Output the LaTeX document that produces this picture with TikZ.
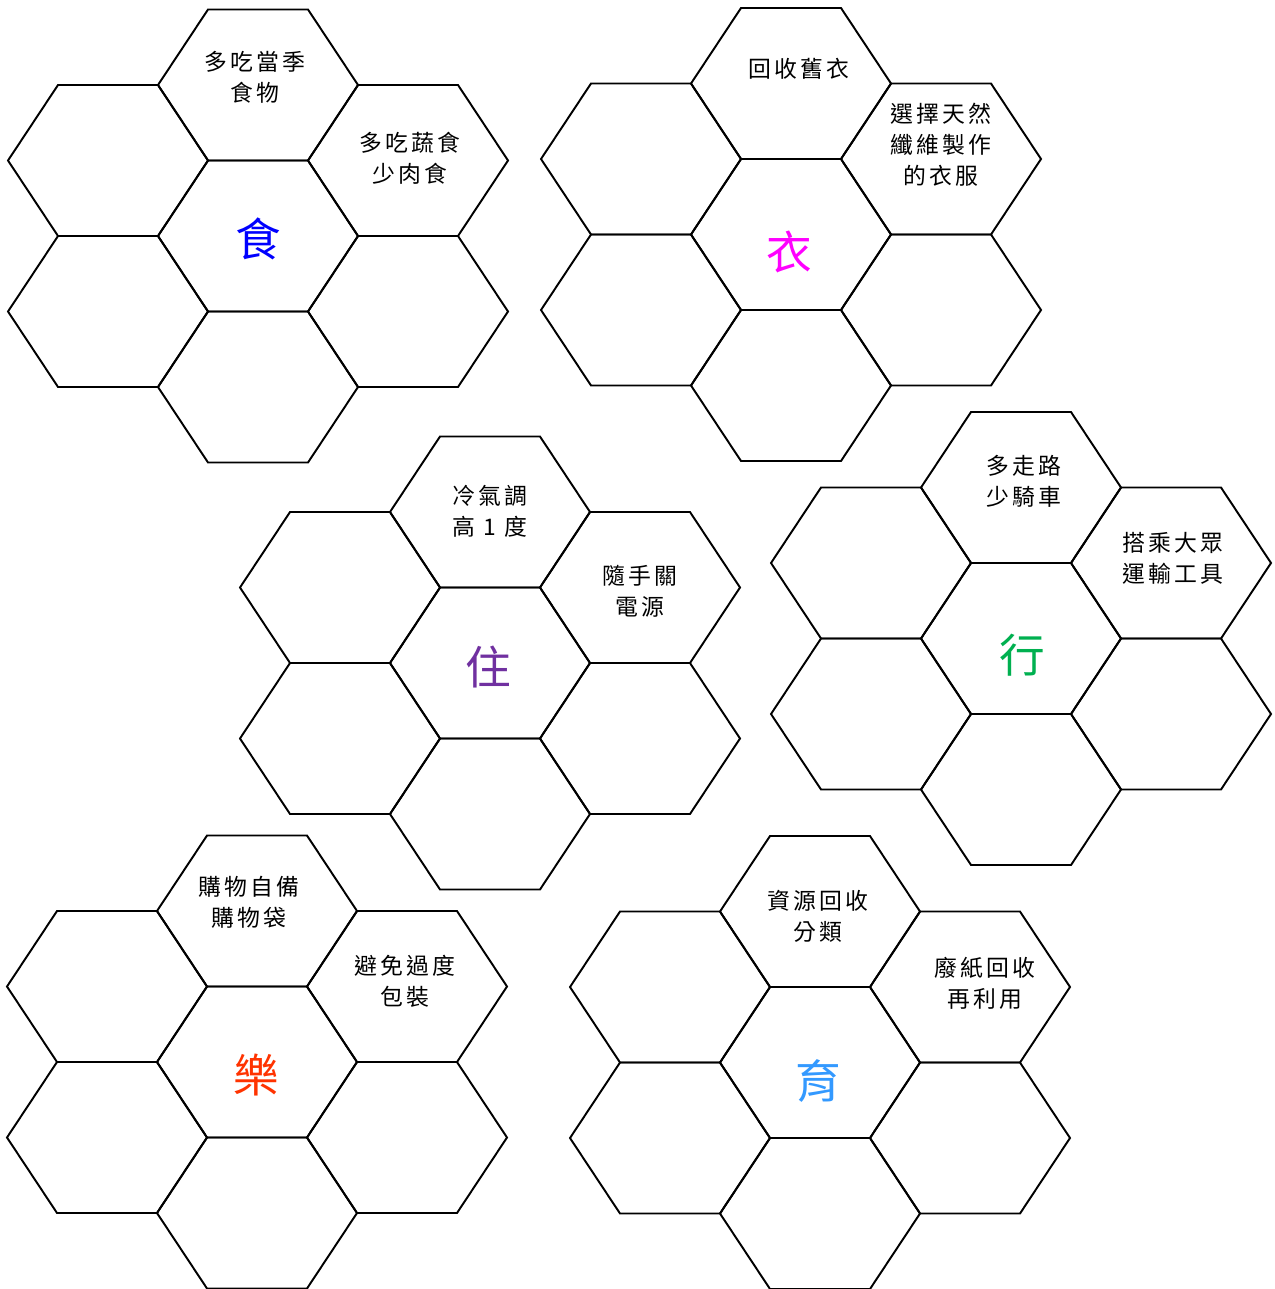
\documentclass[tikz,border=0pt]{standalone}
\usepackage{fontspec}
\newfontfamily\cjk[LetterSpace=15]{Noto Sans CJK TC}
\newfontfamily\cjkhub{Noto Sans CJK TC}
\definecolor{shiblue}{HTML}{0000FF}
\definecolor{yimagenta}{HTML}{FF00FF}
\definecolor{zhupurple}{HTML}{7030A0}
\definecolor{xinggreen}{HTML}{00B050}
\definecolor{leorange}{HTML}{FF3300}
\definecolor{yuskyblue}{HTML}{3399FF}
\tikzset{
  hexline/.style={draw, line width=1.1pt, line join=miter},
  pics/hexcell/.style={code={\draw[hexline] (-100,0) -- (-50,-75.5) -- (50,-75.5) -- (100,0) -- (50,75.5) -- (-50,75.5) -- cycle;}},
  tip/.style={align=center, font=\cjk\fontsize{13}{17.6}\selectfont, inner sep=0pt},
  hub/.style={font=\cjkhub\fontsize{26}{30}\selectfont, inner sep=0pt},
}
\begin{document}
\begin{tikzpicture}[x=0.2mm, y=-0.2mm]
  \useasboundingbox (0,0) rectangle (1274,1289);
  \foreach \cx/\cy in {258/236, 791/234.5, 490/663, 1021/638.5, 257/1062, 820/1062.5}
    \foreach \dx/\dy in {0/0, 0/-151, 0/151, -150/-75.5, 150/-75.5, -150/75.5, 150/75.5}
      \pic at ({\cx+\dx},{\cy+\dy}) {hexcell};

  \node[hub, text=shiblue] (shi) at (258,239) {食};
  \node[tip] (shi-top) at (255,77) {多吃當季\\食物};
  \node[tip] (shi-ur) at (410,158) {多吃蔬食\\少肉食};

  \node[hub, text=yimagenta] (yi) at (789,252) {衣};
  \node[tip] (yi-top) at (799,69) {回收舊衣};
  \node[tip] (yi-ur) at (941,145) {選擇天然\\纖維製作\\的衣服};

  \node[hub, text=zhupurple] (zhu) at (488,667) {住};
  \node[tip] (zhu-top) at (490,511) {冷氣調\\高 1 度};
  \node[tip] (zhu-ur) at (640,591) {隨手關\\電源};

  \node[hub, text=xinggreen] (xing) at (1022,655) {行};
  \node[tip] (xing-top) at (1024,481) {多走路\\少騎車};
  \node[tip] (xing-ur) at (1173,558) {搭乘大眾\\運輸工具};

  \node[hub, text=leorange] (le) at (256,1075) {樂};
  \node[tip] (le-top) at (249,902) {購物自備\\購物袋};
  \node[tip] (le-ur) at (405,981) {避免過度\\包裝};

  \node[hub, text=yuskyblue] (yu) at (818,1081) {育};
  \node[tip] (yu-top) at (818,916) {資源回收\\分類};
  \node[tip] (yu-ur) at (985,983) {廢紙回收\\再利用};
\end{tikzpicture}
\end{document}
